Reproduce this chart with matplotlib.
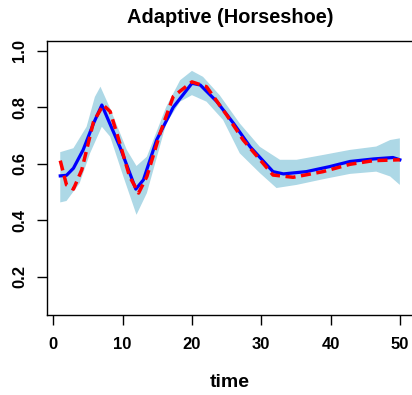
import numpy as np
import matplotlib
matplotlib.use("Agg")
import matplotlib.pyplot as plt

plt.rcParams['font.family'] = ['Liberation Sans', 'DejaVu Sans']
plt.rcParams['font.weight'] = 'bold'

# posterior mean (blue)
t_mean = [1, 1.9, 2.9, 4.3, 5.8, 7.0, 9.6, 11.9, 13.0, 14.9, 17.3, 20.0, 21.2,
          23.6, 26.0, 28.4, 31.7, 33.2, 36.5, 39.9, 42.8, 46.2, 49.0, 50]
mean = [0.557, 0.559, 0.584, 0.649, 0.743, 0.808, 0.660, 0.510, 0.543, 0.684,
        0.800, 0.885, 0.879, 0.820, 0.743, 0.660, 0.572, 0.564, 0.572, 0.590,
        0.608, 0.617, 0.622, 0.614]

# true curve (red dashed)
t_true = [1, 1.9, 2.9, 4.1, 5.8, 7.2, 8.2, 9.6, 11.0, 12.3, 13.5, 15.4, 17.3,
          20.0, 22.1, 25.0, 27.4, 31.7, 34.6, 38.9, 42.8, 46.2, 50]
truth = [0.611, 0.525, 0.510, 0.578, 0.749, 0.808, 0.785, 0.672, 0.555, 0.496,
         0.555, 0.708, 0.838, 0.890, 0.873, 0.773, 0.684, 0.560, 0.552, 0.572,
         0.598, 0.611, 0.614]

# credible band
t_upper = [1, 2.9, 4.8, 6.0, 6.8, 8.2, 10.6, 12.0, 13.5, 16.3, 18.3, 20.0,
           21.6, 24.0, 26.9, 29.8, 32.7, 35.1, 38.9, 42.8, 46.6, 48.6, 50]
upper = [0.641, 0.655, 0.731, 0.837, 0.873, 0.796, 0.649, 0.592, 0.625, 0.802,
         0.896, 0.929, 0.908, 0.843, 0.743, 0.660, 0.614, 0.614, 0.631, 0.649,
         0.661, 0.684, 0.690]
t_lower = [1, 1.9, 3.8, 5.3, 7.0, 8.2, 10.1, 12.0, 13.5, 16.3, 18.3, 20.0,
           22.1, 24.5, 26.9, 29.8, 32.2, 35.1, 38.9, 42.8, 46.6, 48.6, 50]
lower = [0.463, 0.468, 0.531, 0.637, 0.731, 0.696, 0.555, 0.419, 0.496, 0.743,
         0.820, 0.843, 0.820, 0.755, 0.637, 0.567, 0.514, 0.525, 0.545, 0.564,
         0.572, 0.555, 0.525]

fig = plt.figure(figsize=(4.12, 3.95), dpi=100)
ax = fig.add_axes([0.1133, 0.2025, 0.8902, 0.6945])

band_x = np.r_[t_upper, t_lower[::-1]]
band_y = np.r_[upper, lower[::-1]]
ax.fill(band_x, band_y, color='#ADD8E6', lw=0)
ax.plot(t_mean, mean, color='#0000FF', lw=2.3)
ax.plot(t_true, truth, color='#FF0000', lw=2.5, dashes=(2.9, 1.6))

ax.set_xlim(-0.96, 51.96)
ax.set_ylim(0.064, 1.036)
ax.set_xticks([0, 10, 20, 30, 40, 50])
ax.set_yticks([0.2, 0.4, 0.6, 0.8, 1.0])
ax.set_yticklabels(['0.2', '0.4', '0.6', '0.8', '1.0'], rotation=90, va='center')

for s in ax.spines.values():
    s.set_linewidth(1.0)
ax.tick_params(length=7, width=1.0, labelsize=12, pad=7)
ax.tick_params(axis='x', pad=9)

ax.set_title('Adaptive (Horseshoe)', fontsize=14.4, fontweight='bold', pad=13)
ax.set_xlabel('time', fontsize=14, fontweight='bold', labelpad=16)

fig.savefig('out.png', dpi=100)
